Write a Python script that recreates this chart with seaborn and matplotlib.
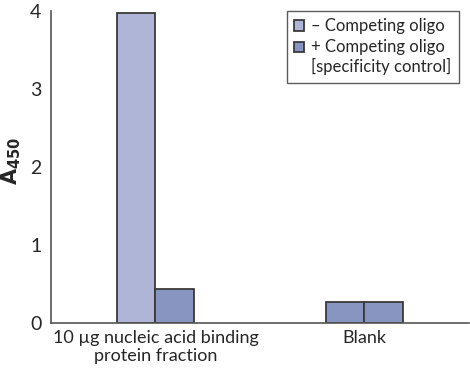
import numpy as np
import pandas as pd
import seaborn as sns
import matplotlib.pyplot as plt

categories = ['10 µg nucleic acid binding\nprotein fraction', 'Blank']
series = ['– Competing oligo', '+ Competing oligo\n[specificity control]']
minus_oligo = [3.98, 0.27]
plus_oligo = [0.44, 0.27]

df = pd.DataFrame({
    'sample': categories * 2,
    'condition': [series[0]] * 2 + [series[1]] * 2,
    'A450': minus_oligo + plus_oligo,
})

light = '#afb5d7'
dark = '#8795c0'

sns.set_style('white')
plt.rcParams['font.family'] = ['Lato', 'DejaVu Sans']

fig = plt.figure(figsize=(4.7, 3.75), dpi=100)
ax = fig.add_axes([0.1085, 0.1387, 0.889, 0.832])

sns.barplot(data=df, x='sample', y='A450', hue='condition',
            palette=[light, dark], saturation=1, width=0.37,
            edgecolor='#3a3a3a', linewidth=1.3, ax=ax)

# the reference draws both Blank bars in the darker shade
ax.patches[1].set_facecolor(dark)

ax.set_xlim(-0.5, 1.5)
ax.set_ylim(0, 4)
ax.set_yticks([0, 1, 2, 3, 4])
ax.set_xticks([0, 1])
ax.set_xticklabels(categories, fontsize=13, linespacing=1.15)
ax.set_xticks([-0.5, 0.5, 1.5], minor=True)
ax.tick_params(axis='x', which='major', length=0, pad=5)
ax.tick_params(axis='x', which='minor', length=5, width=1, color='#555555', direction='out')
ax.tick_params(axis='y', labelsize=14, length=4, width=1, color='#555555', direction='out', pad=3)
ax.set_xlabel('')
ax.set_ylabel(r'$\mathbf{A}_{\mathbf{450}}$', fontsize=15)
ax.yaxis.set_label_coords(-0.068, 0.52)

sns.despine(ax=ax)
for s in ['left', 'bottom']:
    ax.spines[s].set_color('#555555')
    ax.spines[s].set_linewidth(1.2)

leg = ax.legend(loc='upper right', bbox_to_anchor=(0.976, 1.0), fontsize=12,
                frameon=True, fancybox=False, edgecolor='#333333',
                handlelength=0.6, handleheight=0.6, handletextpad=0.4,
                borderpad=0.45, labelspacing=0.25, borderaxespad=0.0)
leg.get_frame().set_linewidth(1.0)
for t in leg.get_texts():
    t.set_linespacing(1.25)
# keep the second swatch level with the first line of its label
h = leg.legend_handles[1]
h.set_y(h.get_y() + 7.5)

fig.savefig('out.png', dpi=100)
